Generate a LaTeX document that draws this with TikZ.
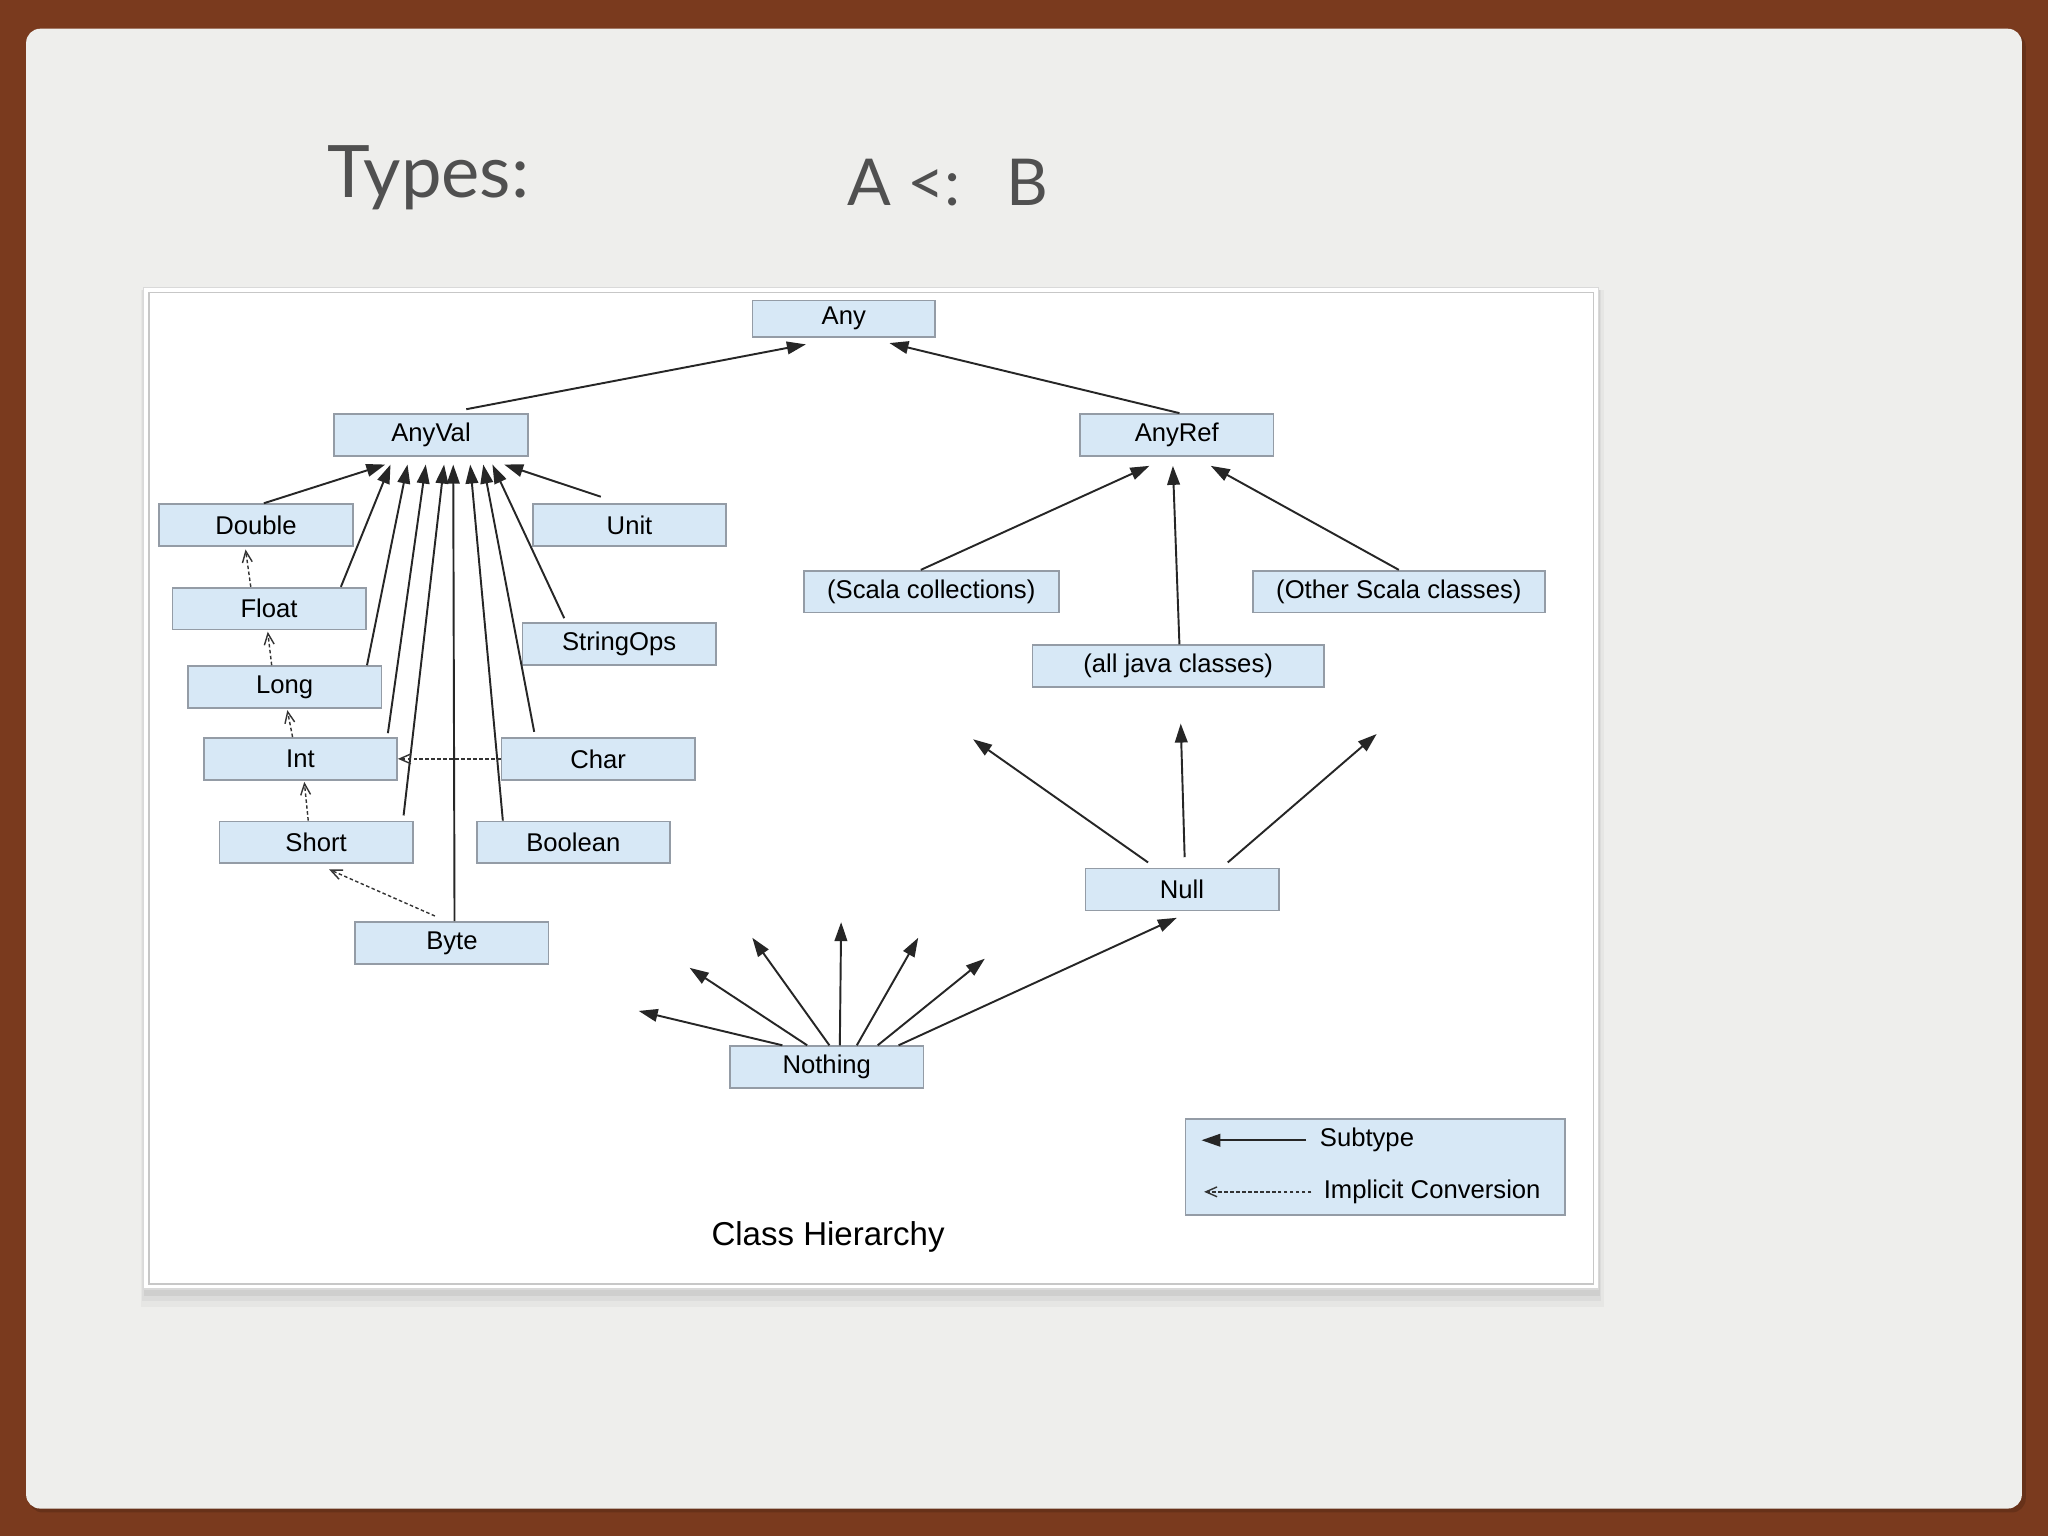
\documentclass[tikz,border=0pt]{standalone}
\usepackage{fontspec}
\usepackage{xcolor}
\usetikzlibrary{arrows.meta, calc, positioning}
\newfontfamily\boxfont{Liberation Sans}
\newfontfamily\slidefont{Lato}
\definecolor{brownbg}{RGB}{122,58,30}
\definecolor{slidebg}{RGB}{238,238,236}
\definecolor{boxfill}{RGB}{215,232,246}
\definecolor{boxline}{RGB}{148,156,166}
\definecolor{titlegray}{RGB}{80,80,80}

\begin{document}
\begin{tikzpicture}[x=0.013061cm, y=-0.013061cm,
    cls/.style={draw=boxline, fill=boxfill, line width=0.5pt, minimum width=55pt,
      minimum height=11.9pt, inner sep=0pt, font=\boxfont\fontsize{7.3}{8}\selectfont},
    lbl/.style={inner sep=0pt, font=\boxfont\fontsize{7.3}{8}\selectfont},
    sub/.style={-{Triangle[length=5.4pt,width=3.6pt]}, line width=0.55pt, draw=black!85},
    conv/.style={-{Straight Barb[length=3.2pt,width=2.8pt]}, line width=0.4pt,
      dash pattern=on 1pt off 0.7pt, draw=black!80},
    title/.style={inner sep=0pt, text=titlegray, font=\slidefont\fontsize{20.6}{24}\selectfont}]
    \useasboundingbox (0,0) rectangle (1568,1176);

    % slide
    \fill[brownbg] (0,0) rectangle (1568,1176);
    \fill[black, opacity=0.15, rounded corners=4pt] (22,25) rectangle (1551,1158);
    \fill[slidebg, rounded corners=4pt] (20,22) rectangle (1548,1155);

    \node[title, anchor=base west] (types) at (250,151) {Types:};
    \node[title, anchor=base west, font=\slidefont\fontsize{18.4}{22}\selectfont] (subrel) at (648,157) {A <:\hspace{13pt}B};

    % panel with shadow
    \fill[black, opacity=0.03] (108,222) rectangle (1228,1001);
    \fill[black, opacity=0.04] (109,222) rectangle (1226,996);
    \fill[black, opacity=0.06] (110,222) rectangle (1225,992);
    \draw[black!15, fill=white] (110,220) rectangle (1224,987);
    \draw[black!22] (114,224) rectangle (1220,983);

    % classes
    \node[cls, minimum width=52pt, minimum height=10.4pt] (any) at (646,244) {Any};
    \node[cls] (anyval) at (330,333) {AnyVal};
    \node[cls] (anyref) at (901,333) {AnyRef};
    \node[cls] (double) at (196,402) {Double};
    \node[cls] (unit) at (482,402) {Unit};
    \node[cls] (float) at (206,466) {Float};
    \node[cls] (stringops) at (474,493) {StringOps};
    \node[cls] (long) at (218,526) {Long};
    \node[cls] (int) at (230,581) {Int};
    \node[cls] (char) at (458,581) {Char};
    \node[cls] (short) at (242,645) {Short};
    \node[cls] (boolean) at (439,645) {Boolean};
    \node[cls] (byte) at (346,722) {Byte};
    \node[cls, minimum width=72.5pt] (scalacoll) at (713,453) {(Scala collections)};
    \node[cls, minimum width=83.2pt] (otherscala) at (1071,453) {(Other Scala classes)};
    \node[cls, minimum width=82.9pt] (javaclasses) at (902,510) {(all java classes)};
    \node[cls] (null) at (905,681) {Null};
    \node[cls] (nothing) at (633,817) {Nothing};

    % subtype arrows
    \draw[sub] ($(anyval.north)+(27,-3)$) -- ($(any.south)+(-29,5)$);
    \draw[sub] ($(anyref.north)+(2,0)$) -- ($(any.south)+(35,4)$);
    \foreach \c/\sx/\sy/\ex in {double/6/0/-35, float/55/0/-31, long/63/0/-18, int/67/-3/-4,
        short/67/-4/10, byte/2/0/17, boolean/-54/0/30, char/-49/-4/40, stringops/-42/-3/47, unit/-22/-5/56}
      \draw[sub] ($(\c.north)+(\sx,\sy)$) -- ($(anyval.south)+(\ex,6)$);
    \foreach \c/\sx/\ex in {scalacoll/-8/-21, javaclasses/1/-3, otherscala/0/26}
      \draw[sub] ($(\c.north)+(\sx,0)$) -- ($(anyref.south)+(\ex,7)$);

    % implicit conversions
    \draw[conv] ($(float.north)+(-14,0)$) -- ($(double.south)+(-8,2)$);
    \draw[conv] ($(long.north)+(-10,0)$) -- ($(float.south)+(-1,1)$);
    \draw[conv] ($(int.north)+(-6,0)$) -- ($(long.south)+(2,1)$);
    \draw[conv] ($(short.north)+(-6,0)$) -- ($(int.south)+(3,1)$);
    \draw[conv] (char.west) -- (int.east);
    \draw[conv] ($(byte.north)+(-13,-4)$) -- ($(short.south)+(10,4)$);

    % Null and Nothing
    \coordinate (nullto1) at (745,566);
    \coordinate (nullto2) at (904,554);
    \coordinate (nullto3) at (1054,562);
    \draw[sub] ($(null.north)+(-26,-4)$) -- (nullto1);
    \draw[sub] ($(null.north)+(2,-8)$) -- (nullto2);
    \draw[sub] ($(null.north)+(35,-4)$) -- (nullto3);
    \coordinate (nothto1) at (489,774);
    \coordinate (nothto2) at (528,741);
    \coordinate (nothto3) at (576,718);
    \coordinate (nothto4) at (644,706);
    \coordinate (nothto5) at (703,718);
    \coordinate (nothto6) at (754,734);
    \foreach \i/\sx in {1/-34, 2/-15, 3/2, 4/10, 5/23, 6/39}
      \draw[sub] ($(nothing.north)+(\sx,0)$) -- (nothto\i);
    \draw[sub] ($(nothing.north)+(55,0)$) -- ($(null.south)+(-4,5)$);

    % legend
    \node[cls, minimum width=108.1pt, minimum height=27.3pt] (legend) at (1053,893.5) {};
    \node[lbl, anchor=west] (subtxt) at (1010,873) {Subtype};
    \node[lbl, anchor=west] (convtxt) at (1013,912.5) {Implicit Conversion};
    \draw[sub] ($(subtxt.west)+(-10,0)$) -- ($(legend.west)+(13,-20.5)$);
    \draw[conv] ($(convtxt.west)+(-9,0)$) -- ($(legend.west)+(15,19)$);

    \node[lbl, font=\boxfont\fontsize{9.4}{11}\selectfont] (caption) at (634,947) {Class Hierarchy};
\end{tikzpicture}
\end{document}
